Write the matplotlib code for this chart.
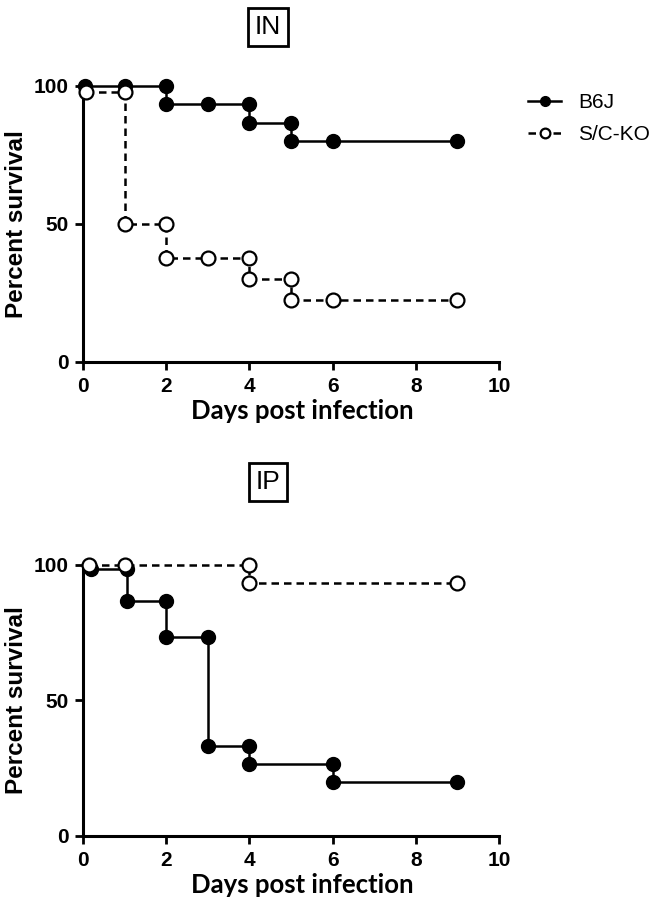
import matplotlib
matplotlib.use("Agg")
import matplotlib.pyplot as plt

# Kaplan-Meier step points (day, percent survival)
in_b6j_days = [0.04, 1, 2, 2, 3, 4, 4, 5, 5, 6, 9]
in_b6j_surv = [100, 100, 100, 93.3, 93.3, 93.3, 86.7, 86.7, 80, 80, 80]
in_ko_days = [0.08, 1, 1, 2, 2, 3, 4, 4, 5, 5, 6, 9]
in_ko_surv = [98, 98, 50, 50, 37.5, 37.5, 37.5, 30, 30, 22.5, 22.5, 22.5]

ip_b6j_days = [0.2, 1.05, 1.05, 2, 2, 3, 3, 4, 4, 6, 6, 9]
ip_b6j_surv = [98.5, 98.5, 86.7, 86.7, 73.3, 73.3, 33.3, 33.3, 26.7, 26.7, 20, 20]
ip_ko_days = [0.15, 1, 4, 4, 9]
ip_ko_surv = [100, 100, 100, 93.3, 93.3]

x_ticks = [0, 2, 4, 6, 8, 10]
y_ticks = [0, 50, 100]
series_names = ["B6J", "S/C-KO"]

AX_FONT = "Liberation Sans"
LABEL_FONT = "Lato"

fig = plt.figure(figsize=(6.62, 9.07), dpi=100)
ax_in = fig.add_axes([0.1254, 0.6009, 0.6284, 0.3043])
ax_ip = fig.add_axes([0.1254, 0.0783, 0.6284, 0.2988])


def draw_panel(ax, b6j, ko, title, title_y):
    ax.plot(b6j[0], b6j[1], color="black", lw=1.8, marker="o", ms=10,
            mfc="black", mec="black", clip_on=False, zorder=3, label=series_names[0])
    ax.plot(ko[0], ko[1], color="black", lw=1.8, dashes=(3, 2), marker="o", ms=10,
            mfc="white", mec="black", mew=1.6, clip_on=False, zorder=4,
            label=series_names[1])

    ax.set_xlim(0, 10)
    ax.set_ylim(0, 100)
    ax.set_xticks(x_ticks)
    ax.set_yticks(y_ticks)
    for side in ("top", "right"):
        ax.spines[side].set_visible(False)
    for side in ("left", "bottom"):
        ax.spines[side].set_linewidth(2.2)
    ax.tick_params(width=2, length=5.5, direction="out", pad=5)
    for lab in ax.get_xticklabels() + ax.get_yticklabels():
        lab.set_fontfamily(AX_FONT)
        lab.set_fontweight("bold")
        lab.set_fontsize(15)

    ax.set_ylabel("Percent survival", fontfamily=AX_FONT, fontweight="bold", fontsize=17.5)
    ax.yaxis.set_label_coords(-0.132, 0.5)
    ax.set_xlabel("Days post infection", fontfamily=LABEL_FONT, fontweight="bold", fontsize=18.5)
    ax.xaxis.set_label_coords(0.528, -0.135)

    ax.text(0.445, title_y, title, transform=ax.transAxes, ha="center", va="center",
            fontfamily=AX_FONT, fontsize=19,
            bbox=dict(boxstyle="square,pad=0.25", fc="white", ec="black", lw=2))


draw_panel(ax_in, (in_b6j_days, in_b6j_surv), (in_ko_days, in_ko_surv), "IN", 1.214)
draw_panel(ax_ip, (ip_b6j_days, ip_b6j_surv), (ip_ko_days, ip_ko_surv), "IP", 1.306)

leg = ax_in.legend(loc="upper left", bbox_to_anchor=(1.07, 0.975), frameon=False,
                   borderaxespad=0, borderpad=0, markerscale=0.7, handlelength=1.6,
                   handletextpad=0.8, labelspacing=0.65,
                   prop={"family": AX_FONT, "size": 15})

fig.savefig("out.png", dpi=100)
